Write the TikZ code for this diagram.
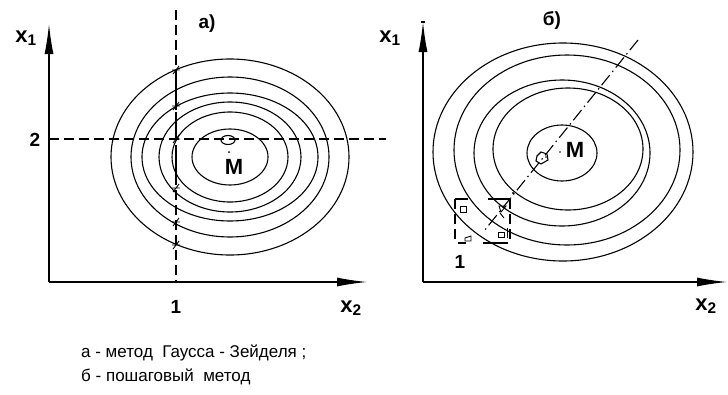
\documentclass[tikz,border=0pt]{standalone}
\usepackage{fontspec}
\setmainfont{Liberation Sans}
\usetikzlibrary{arrows.meta}
\tikzset{
  ln/.style={line width=1.1pt},
  dsh/.style={line width=1.1pt, dash pattern=on 10pt off 5pt},
  dshdot/.style={line width=1.1pt, dash pattern=on 13pt off 4pt on 1.5pt off 4pt},
  axis/.style={line width=1.3pt, -{Latex[length=30pt,width=9pt]}},
  lbl/.style={font=\fontsize{22}{22}\selectfont\bfseries, inner sep=0pt},
  num/.style={font=\fontsize{19}{19}\selectfont\bfseries, inner sep=0pt},
  mlbl/.style={font=\fontsize{22}{22}\selectfont\bfseries, inner sep=0pt},
  captxt/.style={font=\fontsize{17}{17}\selectfont, inner sep=0pt, anchor=base west},
  tk/.style={line width=0.9pt}
}
\begin{document}
\begin{tikzpicture}[x=1pt,y=-1pt]
\useasboundingbox (0,0) rectangle (728,394);
% ---------- left panel ----------
\coordinate (Ao) at (49,282);
\coordinate (Ay) at (49,24);
\coordinate (Ax) at (367,282);
\draw[axis] (Ao) -- (Ay);
\draw[axis] (Ao) -- (Ax);
\coordinate (Vt) at (176,10);
\coordinate (Vb) at (176,282);
\coordinate (Hl) at (49,139);
\coordinate (Hr) at (386,139);
\draw[dsh] (Vt) -- (Vb);
\draw[dsh] (Hl) -- (Hr);
\coordinate (Mc) at (230,157);
\foreach \rx/\ry in {119/98, 99/80, 88/64, 71/55, 58/45, 38/28}
  \draw[ln] (Mc) ellipse [x radius=\rx pt, y radius=\ry pt];
\foreach \yy in {70,106,139,188,222,245}
  \draw[tk] (172,\yy) -- (180,\yy) (173,\yy+4) -- (179,\yy-4);
\draw[ln] (176,70) -- (176,100) (176,112) -- (176,132) (176,146) -- (176,182);
\draw[ln] (228,140) ellipse [x radius=7pt, y radius=4.5pt];
\fill (229,152) circle (1pt);
\node[lbl] (x1a) at (26,38) {x\textsubscript{1}};
\node[num] (twoa) at (35,140) {2};
\node[num] (onea) at (176,307) {1};
\node[lbl] (x2a) at (351,308) {x\textsubscript{2}};
\node[num] (aa) at (207,24) {а)};
\node[mlbl] (Ma) at (234,167) {M};
% ---------- right panel ----------
\coordinate (Bo) at (423,282);
\coordinate (By) at (423,22);
\coordinate (Bx) at (727,282);
\draw[axis] (Bo) -- (By);
\draw[axis] (Bo) -- (Bx);
\draw[ln] (421,22) -- (425,22);
\draw[ln] (563,152) ellipse [x radius=130pt, y radius=109pt];
\draw[ln] (567,150) ellipse [x radius=113pt, y radius=95pt];
\draw[ln] (562,153) ellipse [x radius=88pt, y radius=73pt];
\draw[ln] (568,149) ellipse [x radius=75pt, y radius=61pt];
\draw[ln] (562,153) ellipse [x radius=35pt, y radius=28pt];
\coordinate (Dt) at (638,40);
\coordinate (Db) at (484,231);
\draw[dshdot] (Dt) -- (Db);
\draw[ln] (537,156) -- (541,152) -- (547,154) -- (548,160) -- (541,164) -- (536,161) -- cycle;
\fill (546,157) circle (0.9pt);
\fill (560,152) circle (0.9pt);
% step-search rectangle
\draw[ln] (455,199) -- (468,199) (488,199) -- (510,199);
\draw[dsh] (455,199) -- (455,243);
\draw[ln] (458,243) -- (466,243) (483,243) -- (508,243);
\draw[dsh] (510,199) -- (510,243);
\draw[tk] (460,206) rectangle (466,212);
\draw[tk] (499,206) -- (506,206) -- (501,212) -- cycle;
\draw[tk] (498,232) rectangle (504,237);
\draw[tk] (465,238) -- (471,236) -- (471,241) -- (465,241) -- cycle;
\draw[tk] (500,213) -- (504,218);
\draw[tk] (507,228) -- (507,238);
\fill (513,193) circle (1.2pt);
\node[num] (oneb) at (460,262) {1};
\node[lbl] (x2b) at (706,306) {x\textsubscript{2}};
\node[lbl] (x1b) at (390,38) {x\textsubscript{1}};
\node[num] (bb) at (552,21) {б)};
\node[mlbl] (Mb) at (575,150) {M};
% ---------- captions ----------
\node[captxt] (c1) at (81,357) {а - метод\ \ Гаусса - Зейделя ;};
\node[captxt] (c2) at (81,381) {б - пошаговый\ \ метод};
\end{tikzpicture}
\end{document}
